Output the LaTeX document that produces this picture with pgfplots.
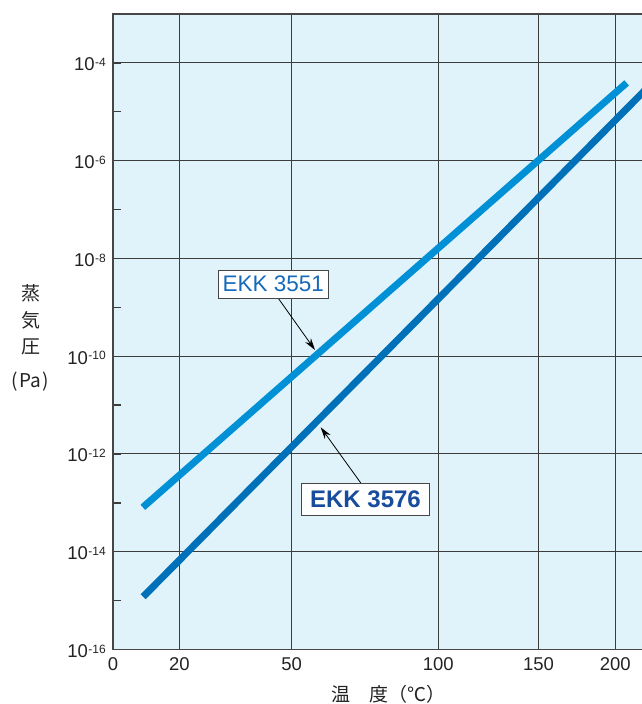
\documentclass[border=0pt]{standalone}
\usepackage{pgfplots}
\pgfplotsset{compat=1.18}
\usepackage{fontspec}
\setmainfont{Liberation Sans}
\newfontfamily\cjk{Noto Sans CJK JP}
\usetikzlibrary{arrows.meta}

\definecolor{bgblue}{RGB}{224,242,250}
\definecolor{gridgray}{RGB}{60,60,60}
\definecolor{axisgray}{RGB}{70,70,70}
\definecolor{ticktext}{RGB}{35,35,35}
\definecolor{lineA}{RGB}{0,144,214}
\definecolor{lineB}{RGB}{0,112,184}
\definecolor{textA}{RGB}{22,106,186}
\definecolor{textB}{RGB}{24,76,156}

% 10^-n written as on the original sheet
\newcommand{\tenpow}[1]{\mbox{10\hspace{0.5pt}\raisebox{4.2pt}{\fontsize{12}{12}\selectfont -#1}}}

\begin{document}
\begin{tikzpicture}
\begin{axis}[
  name=ax,
  scale only axis,
  width=529pt, height=635.5pt,
  ymode=log,
  xmin=0, xmax=217.4,
  ymin=1e-16, ymax=1e-3,
  % temperature scale of the sheet (piecewise)
  x coord trafo/.code={\pgfmathparse{(#1<20) ? (#1*3.315) : ((#1<50) ? (66.3+(#1-20)*3.7467) : ((#1<100) ? (178.7+(#1-50)*2.932) : ((#1<150) ? (325.3+(#1-100)*2.004) : (425.5+(#1-150)*1.536))))}},
  xtick={0,20,50,100,150,200},
  xticklabels={\mbox{0},\mbox{20},\mbox{50},\mbox{100},\mbox{150},\mbox{200}},
  ytick={1e-16,1e-14,1e-12,1e-10,1e-8,1e-6,1e-4},
  yticklabels={\tenpow{16},\tenpow{14},\tenpow{12},\tenpow{10},\tenpow{8},\tenpow{6},\tenpow{4}},
  minor ytick={1e-15,1e-13,1e-11,1e-9,1e-7,1e-5,1e-3},
  grid=major,
  major grid style={draw=gridgray, line width=1pt},
  tick pos=left,
  tick align=inside,
  major tick length=8pt,
  minor tick length=8pt,
  tick style={draw=gridgray, line width=1.4pt},
  axis line style={draw=none},
  axis background/.style={fill=bgblue},
  ticklabel style={font=\fontsize{18.5}{19}\selectfont, text=ticktext},
  xticklabel style={anchor=north, inner sep=0pt, yshift=-8pt},
  yticklabel style={anchor=east, inner sep=0pt, xshift=-7pt, yshift=-1.5pt},
  clip=true,
]
\addplot[lineA, line width=7pt, line cap=butt, mark=none]
  coordinates {(9.0,8.1e-14) (207.4,3.9e-5)};
\addplot[lineB, line width=7pt, line cap=butt, mark=none]
  coordinates {(9.1,1.2e-15) (220,2.9e-5)};
\end{axis}

% frame: top, left, bottom (right side is cut off on the sheet)
\draw[axisgray, line width=1.6pt] (ax.north east) -- (ax.north west) -- (ax.south west) -- (ax.south east);

% labels
\node[font=\cjk\fontsize{19}{19}\selectfont, text=ticktext] at ([shift={(-82pt,356.5pt)}]ax.south west) {蒸};
\node[font=\cjk\fontsize{19}{19}\selectfont, text=ticktext] at ([shift={(-82pt,329.5pt)}]ax.south west) {気};
\node[font=\cjk\fontsize{19}{19}\selectfont, text=ticktext] at ([shift={(-82pt,302.5pt)}]ax.south west) {圧};
\node[font=\cjk\fontsize{19}{19}\selectfont, text=ticktext] at ([shift={(-83pt,267.5pt)}]ax.south west) {(\kern1.5pt Pa\kern1.5pt)};
\node[font=\cjk\fontsize{19}{19}\selectfont, text=ticktext] at ([shift={(275pt,-45pt)}]ax.south west) {温　度（℃）};

% callouts
\draw[black, line width=0.8pt, -{Stealth[length=12pt,width=7pt]}]
  ([shift={(165.3pt,351.2pt)}]ax.south west) -- ([shift={(202pt,299.5pt)}]ax.south west);
\node[draw=axisgray, line width=0.8pt, fill=white, minimum width=110pt, minimum height=28.3pt, inner sep=0pt,
      font=\fontsize{22.5}{23}\selectfont, text=textA]
  at ([shift={(160.3pt,365.3pt)}]ax.south west) {EKK 3551};
\draw[black, line width=0.8pt, -{Stealth[length=12pt,width=7pt]}]
  ([shift={(248pt,166.2pt)}]ax.south west) -- ([shift={(207.7pt,222.2pt)}]ax.south west);
\node[draw=axisgray, line width=0.8pt, fill=white, minimum width=127.6pt, minimum height=31.7pt, inner sep=0pt,
      font=\bfseries\fontsize{24}{24}\selectfont, text=textB]
  at ([shift={(252.5pt,150.3pt)}]ax.south west) {EKK 3576};

\pgfresetboundingbox
\path[use as bounding box] ([shift={(-113pt,-54.5pt)}]ax.south west) rectangle ([shift={(0pt,14pt)}]ax.north east);
\end{tikzpicture}
\end{document}
